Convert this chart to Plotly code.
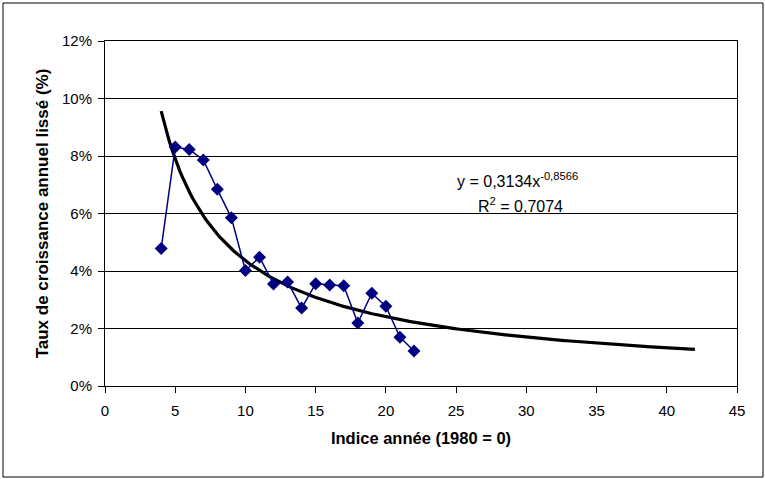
import plotly.graph_objects as go

# Data
years_idx = [4, 5, 6, 7, 8, 9, 10, 11, 12, 13, 14, 15, 16, 17, 18, 19, 20, 21, 22]
growth_pct = [4.78, 8.31, 8.23, 7.86, 6.84, 5.85, 4.02, 4.48, 3.55, 3.62, 2.71,
              3.56, 3.51, 3.49, 2.19, 3.23, 2.77, 1.70, 1.22]

# Power trendline coefficients as displayed (y = a * x^b), extended to x = 42
trend_a = 0.3134
trend_b = -0.8566
trend_x_start = 4
trend_x_end = 42

x_tickvals = [0, 5, 10, 15, 20, 25, 30, 35, 40, 45]
y_tickvals = [0, 2, 4, 6, 8, 10, 12]
y_ticktext = ["0%", "2%", "4%", "6%", "8%", "10%", "12%"]

trend_x = [trend_x_start + i * (trend_x_end - trend_x_start) / 200 for i in range(201)]
trend_y = [100 * trend_a * xx ** trend_b for xx in trend_x]

FONT = "Liberation Sans, Arial, sans-serif"

fig = go.Figure()
fig.add_trace(go.Scatter(
    x=trend_x, y=trend_y, mode="lines",
    line=dict(color="black", width=3.2), hoverinfo="skip", showlegend=False))
fig.add_trace(go.Scatter(
    x=years_idx, y=growth_pct, mode="lines+markers",
    line=dict(color="#000080", width=1.5),
    marker=dict(symbol="diamond", size=10, color="#000080"),
    showlegend=False))

L, R, T, B = 105, 28, 41, 93
W, H = 765, 479
pw, ph = W - L - R, H - T - B

fig.update_layout(
    width=W, height=H,
    margin=dict(l=L, r=R, t=T, b=B),
    paper_bgcolor="white", plot_bgcolor="white",
    font=dict(family=FONT, size=15, color="black"),
    xaxis=dict(
        range=[0, 45], tickvals=x_tickvals, ticks="outside", ticklen=6,
        tickcolor="black", showgrid=False, zeroline=False, automargin=False,
        showline=True, linecolor="black", linewidth=1, mirror=True,
        tickfont=dict(size=15), ticklabelstandoff=5,
        title=dict(text="<b>Indice année (1980 = 0)</b>", font=dict(size=16.5), standoff=14),
    ),
    yaxis=dict(
        range=[0, 12], tickvals=y_tickvals, ticktext=y_ticktext, ticks="outside",
        ticklen=6, tickcolor="black", showgrid=True, gridcolor="black", gridwidth=1,
        zeroline=False, showline=True, linecolor="black", linewidth=1, mirror=True,
        automargin=False, tickfont=dict(size=15), ticklabelstandoff=3,
        title=dict(text="<b>Taux de croissance annuel lissé (%)</b>", font=dict(size=17), standoff=9),
    ),
    annotations=[
        dict(xref="paper", yref="paper", x=(517 - L) / pw, y=(H - B - 180) / ph,
             showarrow=False, text="y = 0,3134x<sup>-0,8566</sup>", font=dict(size=16)),
        dict(xref="paper", yref="paper", x=(520 - L) / pw, y=(H - B - 205) / ph,
             showarrow=False, text="R<sup>2</sup> = 0,7074", font=dict(size=16)),
    ],
    shapes=[
        dict(type="rect", xref="paper", yref="paper",
             x0=(3 - L) / pw, x1=(763 - L) / pw,
             y0=(H - B - 477) / ph, y1=(H - B - 3) / ph,
             line=dict(color="black", width=1), layer="below"),
    ],
)

fig.write_html("out.html", config={"displayModeBar": False},
               post_script="document.body.style.margin='0';document.body.style.overflow='hidden';")
